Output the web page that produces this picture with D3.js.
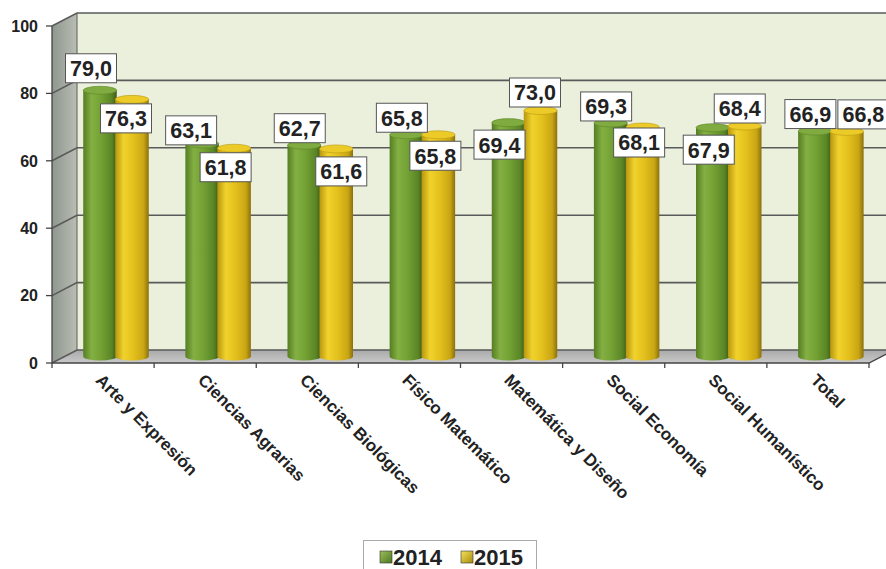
<!DOCTYPE html>
<html><head><meta charset="utf-8">
<script src="https://cdn.jsdelivr.net/npm/d3@7"></script>
<style>
body{margin:0;background:#fff;}
svg{display:block;font-family:Arial,"Liberation Sans",sans-serif;}
</style></head>
<body><svg id="c" width="886" height="569"></svg>
<script>
const categories = ["Arte y Expresión","Ciencias Agrarias","Ciencias Biológicas","Físico Matemático","Matemática y Diseño","Social Economía","Social Humanístico","Total"];
const series = ["2014","2015"];
const values2014 = [79.0,63.1,62.7,65.8,69.4,69.3,67.9,66.9];
const values2015 = [76.3,61.8,61.6,65.8,73.0,68.1,68.4,66.8];
const yTicks = [0,20,40,60,80,100];
// label box offsets (px) from each bar's top centre, as placed in the original
const labelDx2014 = [-9,-11,-4.5,-4.5,-9,-4.5,-4,-4.5];
const labelDy2014 = [-22,-13.5,-17,-17,22,-16.5,22,-17];
const labelDx2015 = [-6,-8.5,5,-3,-5.5,-3.5,-5,16.5];
const labelDy2015 = [19,19,22.5,21,-18,15.5,-17.5,-17];

const svg = d3.select("#c");
const DX = 25, DY = -13;
const x = d3.scaleBand().domain(categories).range([52, 869]);
const y = d3.scaleLinear().domain([0,100]).range([363, 26]);
const xs = d3.scaleBand().domain(series).range([19.5, 83.5]);
const fmt = v => d3.format(".1f")(v).replace(".", ",");

const defs = svg.append("defs");
function grad(id, stops, x2="100%", y2="0%"){
  const g = defs.append("linearGradient").attr("id", id).attr("x1","0%").attr("y1","0%").attr("x2",x2).attr("y2",y2);
  stops.forEach(s => g.append("stop").attr("offset", s[0]).attr("stop-color", s[1]));
}
grad("gGreen", [["0%","#557d22"],["25%","#84b043"],["55%","#72a033"],["85%","#5a8526"],["100%","#3d5a16"]]);
grad("gYellow", [["0%","#b8960f"],["25%","#f1d22c"],["55%","#e3c01c"],["85%","#c9a514"],["100%","#8a700c"]]);
grad("gLeftWall", [["0%","#8e968e"],["100%","#b9beb4"]]);
grad("gFloor", [["0%","#a9a9a9"],["100%","#c9c9c9"]], "0%", "100%");
grad("gLegG", [["0%","#9bc05a"],["100%","#4f7620"]], "100%", "100%");
grad("gLegY", [["0%","#f6e35a"],["100%","#a88a0e"]], "100%", "100%");

const x0 = 52, x1 = 869, yb = y(0), yt = y(100);
// back wall
svg.append("rect").attr("x", x0+DX).attr("y", yt+DY).attr("width", 900-(x0+DX)).attr("height", yb-yt).attr("fill","#ebf0dd");
// left wall
svg.append("path").attr("d", `M${x0},${yt}L${x0+DX},${yt+DY}L${x0+DX},${yb+DY}L${x0},${yb}Z`).attr("fill","url(#gLeftWall)");
// floor
svg.append("path").attr("d", `M${x0},${yb}L${x0+DX},${yb+DY}L${x1+DX},${yb+DY}L${x1},${yb}Z`).attr("fill","url(#gFloor)");

// gridlines
const gl = svg.append("g").attr("stroke","#5a5a5a").attr("stroke-width",1.6).attr("fill","none");
yTicks.forEach(t => {
  gl.append("path").attr("d", `M${x0},${y(t)}L${x0+DX},${y(t)+DY}L${t===0?x1+DX:900},${y(t)+DY}`);
});
gl.append("line").attr("x1",x0+DX).attr("x2",x0+DX).attr("y1",yt+DY).attr("y2",yb+DY).attr("stroke-width",1);

// bars (cylinders), placed at mid depth
const mdx = DX/2, mdy = DY/2;
const bw = xs.bandwidth() + 1.5, ry = 4;
const bars = svg.append("g");
function drawBar(cat, s, v, fill, capFill, edge){
  const cx = x(cat) + mdx + xs(s) + xs.bandwidth()/2;
  const top = y(v) + mdy, bot = y(0) + mdy;
  const g = bars.append("g");
  g.append("path").attr("d", `M${cx-bw/2},${top}L${cx-bw/2},${bot}A${bw/2},${ry} 0 0 0 ${cx+bw/2},${bot}L${cx+bw/2},${top}Z`).attr("fill", fill);
  g.append("ellipse").attr("cx", cx).attr("cy", top).attr("rx", bw/2).attr("ry", ry).attr("fill", capFill).attr("stroke", edge).attr("stroke-width",0.6);
}
categories.forEach((c,i) => {
  drawBar(c, "2014", values2014[i], "url(#gGreen)", "#80ab40", "#5d8628");
  drawBar(c, "2015", values2015[i], "url(#gYellow)", "#eccb28", "#b89812");
});

// axes
const ax = svg.append("g").attr("stroke","#444").attr("stroke-width",1.3);
ax.append("line").attr("x1",x0).attr("x2",x0).attr("y1",yt).attr("y2",yb);
ax.append("path").attr("fill","none").attr("d", `M${x0},${yb}L${x1},${yb}L${x1+DX},${yb+DY}`);
yTicks.forEach(t => ax.append("line").attr("x1",x0-6).attr("x2",x0).attr("y1",y(t)).attr("y2",y(t)));
d3.range(categories.length+1).forEach(i => {
  const xx = i < categories.length ? x(categories[i]) : x1;
  ax.append("line").attr("x1",xx).attr("x2",xx).attr("y1",yb).attr("y2",yb+5);
});
svg.append("g").selectAll("text").data(yTicks).join("text")
  .attr("x", 38).attr("y", d => y(d)).attr("dy","0.36em").attr("text-anchor","end")
  .attr("font-size",16).attr("font-weight","bold").attr("fill","#222").text(d => d);

// category labels
svg.append("g").selectAll("text").data(categories).join("text")
  .attr("transform", d => `translate(${x(d)+x.bandwidth()/2-4},${yb+14}) rotate(45)`)
  .attr("text-anchor","start").attr("dy","0.35em")
  .attr("font-size",17).attr("font-weight","bold").attr("fill","#222").text(d => d);

// value labels
const lab = svg.append("g");
function drawLabel(cat, s, v, dx, dy){
  const cx = x(cat) + mdx + xs(s) + xs.bandwidth()/2 + dx;
  const cy = y(v) + mdy + dy;
  lab.append("rect").attr("x", cx-25.5).attr("y", cy-14.5).attr("width",51).attr("height",29)
    .attr("fill","#fff").attr("stroke","#555").attr("stroke-width",1);
  lab.append("text").attr("x", cx).attr("y", cy).attr("dy","0.37em").attr("text-anchor","middle")
    .attr("font-size",21.5).attr("font-weight","bold").attr("fill","#222").text(fmt(v));
}
categories.forEach((c,i) => {
  drawLabel(c, "2014", values2014[i], labelDx2014[i], labelDy2014[i]);
  drawLabel(c, "2015", values2015[i], labelDx2015[i], labelDy2015[i]);
});

// legend
const lg = svg.append("g");
lg.append("rect").attr("x",363.5).attr("y",540.5).attr("width",173).attr("height",40).attr("fill","#fff").attr("stroke","#aaa");
const legFills = ["url(#gLegG)","url(#gLegY)"];
const legX = [380, 461];
series.forEach((s,i) => {
  lg.append("rect").attr("x",legX[i]).attr("y",551).attr("width",12).attr("height",12).attr("fill",legFills[i]).attr("stroke","#333").attr("stroke-width",0.6);
  lg.append("text").attr("x",legX[i]+13).attr("y",557).attr("dy","0.37em").attr("font-size",22).attr("font-weight","bold").attr("fill","#222").text(s);
});
</script></body></html>
